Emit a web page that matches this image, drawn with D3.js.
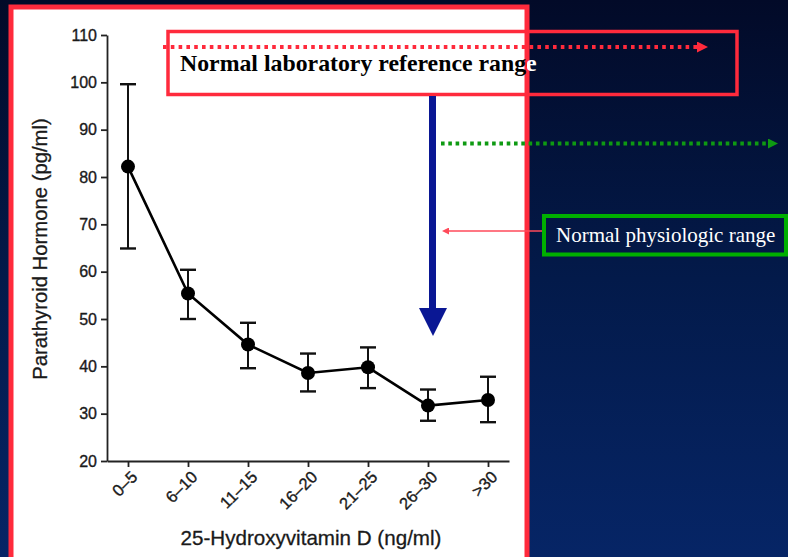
<!DOCTYPE html>
<html>
<head>
<meta charset="utf-8">
<script src="https://cdn.jsdelivr.net/npm/d3@7"></script>
<style>
  html, body { margin: 0; padding: 0; background: #020a28; }
  svg { display: block; }
</style>
</head>
<body>
<svg id="chart" width="788" height="557"></svg>
<script>
// ---- data ----
const categories = ["0–5", "6–10", "11–15", "16–20", "21–25", "26–30", ">30"];
const pthMean   = [82.2, 55.4, 44.6, 38.6, 39.8, 31.7, 32.9];
const pthUpper  = [99.6, 60.4, 49.2, 42.7, 44.0, 35.1, 37.8];
const pthLower  = [64.9, 50.0, 39.6, 34.7, 35.4, 28.5, 28.2];
const yTicks    = [20, 30, 40, 50, 60, 70, 80, 90, 100, 110];
const yLabel = "Parathyroid Hormone (pg/ml)";
const xLabel = "25-Hydroxyvitamin D (ng/ml)";
const labRangeText = "Normal laboratory reference range";
const physRangeText = "Normal physiologic range";

const svg = d3.select("#chart");
const W = 788, H = 557;
const defs = svg.append("defs");

// background gradient
const grad = defs.append("linearGradient").attr("id", "bg").attr("x1", 0).attr("y1", 0).attr("x2", 0).attr("y2", 1);
grad.append("stop").attr("offset", 0).attr("stop-color", "#020a28");
grad.append("stop").attr("offset", 0.5).attr("stop-color", "#031a4a");
grad.append("stop").attr("offset", 1).attr("stop-color", "#062566");
svg.append("rect").attr("width", W).attr("height", H).attr("fill", "url(#bg)");

// clip paths for the label crossing the panel edge
defs.append("clipPath").attr("id", "inPanel").append("rect").attr("x", 0).attr("y", 0).attr("width", 527).attr("height", H);
defs.append("clipPath").attr("id", "outPanel").append("rect").attr("x", 527).attr("y", 0).attr("width", W - 527).attr("height", H);

// arrow markers
function marker(id, color, w, h) {
  defs.append("marker").attr("id", id)
    .attr("viewBox", "0 0 10 10").attr("refX", 0).attr("refY", 5)
    .attr("markerUnits", "userSpaceOnUse")
    .attr("markerWidth", w).attr("markerHeight", h).attr("orient", "auto")
    .append("path").attr("d", "M0,0L10,5L0,10Z").attr("fill", color);
}

// white panel
svg.append("rect").attr("x", 11).attr("y", 7).attr("width", 516).attr("height", 560).attr("fill", "#ffffff");

// ---- scales ----
const x = d3.scalePoint().domain(categories).range([107, 509]).padding(0.35);
const y = d3.scaleLinear().domain([20, 110]).range([461, 35]);

const axisColor = "#222";
const textColor = "#1a1a1a";
const sans = "Liberation Sans, Arial, Helvetica, sans-serif";
const g = svg.append("g");

// y axis
const yAxis = g.append("g").attr("transform", "translate(107,0)")
  .call(d3.axisLeft(y).tickValues(yTicks).tickSize(6).tickPadding(4).tickSizeOuter(0));
yAxis.select(".domain").attr("stroke", axisColor).attr("stroke-width", 1.8);
yAxis.selectAll(".tick line").attr("stroke", axisColor).attr("stroke-width", 1.8);
yAxis.selectAll(".tick text").attr("fill", textColor).attr("font-family", sans).attr("font-size", 16)
  .attr("stroke", textColor).attr("stroke-width", 0.35);

// x axis
const xAxis = g.append("g").attr("transform", "translate(0,461)")
  .call(d3.axisBottom(x).tickSize(6).tickSizeOuter(0));
xAxis.select(".domain").attr("stroke", axisColor).attr("stroke-width", 1.8);
xAxis.selectAll(".tick line").attr("stroke", axisColor).attr("stroke-width", 1.8);
xAxis.selectAll(".tick text")
  .attr("fill", textColor).attr("font-family", sans).attr("font-size", 16.5)
  .attr("stroke", textColor).attr("stroke-width", 0.35)
  .attr("text-anchor", "end").attr("x", -5).attr("y", 19).attr("dy", 0)
  .attr("transform", "rotate(-45)");

// axis titles
g.append("text").attr("transform", "translate(47,249) rotate(-90)")
  .attr("text-anchor", "middle").attr("font-family", sans)
  .attr("font-size", 20.3).attr("fill", textColor).attr("stroke", textColor).attr("stroke-width", 0.3)
  .text(yLabel);
g.append("text").attr("x", 311).attr("y", 545)
  .attr("text-anchor", "middle").attr("font-family", sans)
  .attr("font-size", 20.6).attr("fill", textColor).attr("stroke", textColor).attr("stroke-width", 0.3)
  .text(xLabel);

// error bars
const capW = 8;
const eb = g.append("g").attr("stroke", "#111").attr("stroke-width", 2);
categories.forEach((c, i) => {
  const cx = x(c);
  eb.append("line").attr("x1", cx).attr("x2", cx).attr("y1", y(pthLower[i])).attr("y2", y(pthUpper[i]));
  eb.append("line").attr("x1", cx - capW).attr("x2", cx + capW).attr("y1", y(pthUpper[i])).attr("y2", y(pthUpper[i])).attr("stroke-width", 2.4);
  eb.append("line").attr("x1", cx - capW).attr("x2", cx + capW).attr("y1", y(pthLower[i])).attr("y2", y(pthLower[i])).attr("stroke-width", 2.4);
});

// line + dots
const pts = categories.map((c, i) => [x(c), y(pthMean[i])]);
g.append("path").attr("d", d3.line()(pts)).attr("fill", "none").attr("stroke", "#000").attr("stroke-width", 2.6);
g.selectAll("circle.dot").data(pts).enter().append("circle")
  .attr("class", "dot").attr("cx", d => d[0]).attr("cy", d => d[1]).attr("r", 7).attr("fill", "#000");

// ---- annotations ----
const red = "#ff2a3c";
// panel border
svg.append("rect").attr("x", 11).attr("y", 7).attr("width", 516).attr("height", 560)
  .attr("fill", "none").attr("stroke", red).attr("stroke-width", 5);

// lab range label (black inside panel, white outside)
[["inPanel", "#000"], ["outPanel", "#ffffff"]].forEach(([clip, col]) => {
  svg.append("text").attr("clip-path", `url(#${clip})`)
    .attr("x", 180).attr("y", 71)
    .attr("font-family", "Liberation Serif, Times New Roman, serif").attr("font-weight", "bold")
    .attr("font-size", 23.8).attr("fill", col).text(labRangeText);
});

// red box
svg.append("rect").attr("x", 168).attr("y", 31.5).attr("width", 569).attr("height", 63)
  .attr("fill", "none").attr("stroke", red).attr("stroke-width", 3.5);

// red dotted arrow
marker("redHead", red, 11, 11);
svg.append("line").attr("x1", 163).attr("x2", 697).attr("y1", 47).attr("y2", 47)
  .attr("stroke", red).attr("stroke-width", 4).attr("stroke-dasharray", "3.6,4.2")
  .attr("marker-end", "url(#redHead)");

// blue arrow
const blue = "#0a1794";
svg.append("rect").attr("x", 429).attr("y", 96).attr("width", 7).attr("height", 214).attr("fill", blue);
svg.append("path").attr("d", "M419,308L447,308L433,336Z").attr("fill", blue);

// green dotted arrow
const green = "#0e9a12";
marker("greenHead", green, 10, 10);
svg.append("line").attr("x1", 441).attr("x2", 768).attr("y1", 143.5).attr("y2", 143.5)
  .attr("stroke", green).attr("stroke-width", 4).attr("stroke-dasharray", "3.6,3.7")
  .attr("marker-end", "url(#greenHead)");

// thin red pointer
const pink = "#ff4a5a";
marker("pinkHead", pink, 8, 7);
svg.append("line").attr("x1", 543).attr("x2", 449).attr("y1", 231).attr("y2", 231)
  .attr("stroke", pink).attr("stroke-width", 1.5).attr("marker-end", "url(#pinkHead)");

// green box + label
svg.append("rect").attr("x", 544).attr("y", 216).attr("width", 242).attr("height", 38.5)
  .attr("fill", "none").attr("stroke", "#00b000").attr("stroke-width", 4);
svg.append("text").attr("x", 556).attr("y", 242)
  .attr("font-family", "Liberation Serif, Times New Roman, serif")
  .attr("font-size", 21).attr("fill", "#ffffff").text(physRangeText);
</script>
</body>
</html>
